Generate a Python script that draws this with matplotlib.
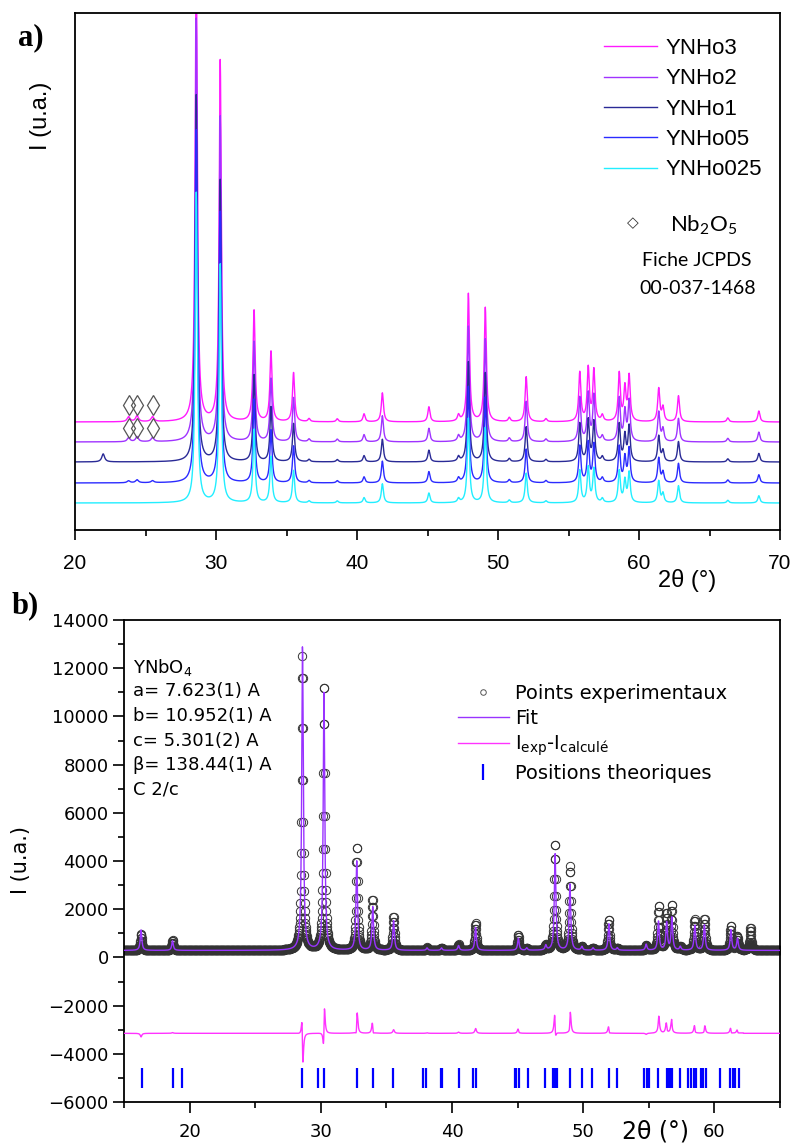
import numpy as np
import matplotlib
matplotlib.use('Agg')
import matplotlib.pyplot as plt
from matplotlib.lines import Line2D
from matplotlib.ticker import MultipleLocator, NullLocator

W, H = 792, 1147

# ---------------- a) DRX des echantillons ----------------
samples = ['YNHo3', 'YNHo2', 'YNHo1', 'YNHo05', 'YNHo025']
colors_a = ['#ff1aff', '#a033ff', '#2a2a96', '#2b2bff', '#22eeff']
offsets_a = [108, 88, 68, 47, 27]
scales_a = [1.0, 0.9, 0.78, 0.75, 0.66]

peak_pos_a = [28.6, 30.3, 32.7, 33.9, 35.5, 36.6, 38.6, 40.5, 41.8, 45.1, 47.2,
              47.9, 49.1, 50.8, 52.0, 53.4, 55.8, 56.4, 56.8, 57.4, 58.6, 59.0,
              59.3, 61.4, 61.7, 62.8, 66.3, 68.5]
peak_h_a = [470, 361, 111, 70, 49, 3, 3, 8, 29, 15, 6,
            128, 114, 4, 45, 3, 49, 53, 51, 6, 48, 33,
            45, 33, 14, 26, 4, 11]
hwhm_a = 0.09

# pics d'impurete (Nb2O5 et pic a 22 deg)
imp_pos = [22.0, 23.8, 24.4, 25.5]
imp_h = [[0, 5, 6, 5],
         [0, 4, 5, 4],
         [8, 0, 0, 0],
         [0, 2, 3, 2],
         [0, 0, 0, 0]]
nb2o5_pos = [23.8, 24.4, 25.5]

# ---------------- b) affinement YNbO4 ----------------
bg_b = 290
pos_b = [16.3, 18.7, 28.6, 30.25, 32.75, 33.95, 35.55, 38.1, 39.2, 40.5, 41.8,
         45.05, 45.7, 47.15, 47.85, 49.0, 49.9, 50.75, 51.95, 52.6, 54.8, 55.75,
         56.35, 56.75, 57.4, 58.5, 59.25, 61.25, 61.75, 62.75]
obs_h = [700, 430, 12200, 11100, 4300, 2100, 1400, 120, 100, 250, 1150,
         650, 100, 200, 4450, 3500, 150, 100, 1300, 100, 200, 1850,
         1500, 1850, 150, 1300, 1300, 1000, 600, 950]
fit_pos = [16.3, 18.7, 28.607, 30.243, 32.74, 33.96, 35.55, 38.1, 39.2, 40.5, 41.8,
           45.06, 45.7, 47.15, 47.86, 48.99, 49.9, 50.75, 51.96, 52.6, 54.8, 55.74,
           56.36, 56.76, 57.4, 58.51, 59.24, 61.26, 61.76, 62.75]
fit_h = [850, 400, 12700, 10700, 3700, 1800, 1250, 100, 100, 200, 950,
         500, 100, 200, 4000, 2800, 150, 100, 1100, 100, 250, 1200,
         1150, 1350, 150, 1050, 1050, 850, 500, 0]
hwhm_b = 0.07
diff_offset = -3150
fit_end = 62.2

theo_pos = [16.34, 18.74, 19.4, 28.6, 29.8, 30.23, 32.75, 33.96, 35.53, 37.8, 38.0,
            39.14, 39.27, 40.55, 41.6, 41.84, 44.77, 44.9, 45.08, 45.76, 47.1,
            47.67, 47.85, 48.03, 48.99, 49.92, 50.7, 51.94, 52.6, 54.67, 54.85,
            55.05, 55.73, 56.36, 56.5, 56.65, 56.8, 57.37, 58.0, 58.2, 58.46,
            58.58, 58.96, 59.1, 59.34, 60.4, 61.2, 61.4, 61.6, 61.87]

cell_text = ['YNbO$_\\mathdefault{4}$', 'a= 7.623(1) A', 'b= 10.952(1) A',
             'c= 5.301(2) A', '\u03b2= 138.44(1) A', 'C 2/c']


def lorentz(x, pos, h, g):
    y = np.zeros_like(x)
    for p, a in zip(pos, h):
        y += a * g**2 / ((x - p)**2 + g**2)
    return y


fig = plt.figure(figsize=(W / 100, H / 100), dpi=100)


def fx(px):
    return px / W


def fy(py):
    return 1 - py / H


# ---- panel a
ax1 = fig.add_axes([fx(75), fy(530), fx(780) - fx(75), fy(13) - fy(530)])
tt_a = np.arange(20, 70.001, 0.02)
for i, name in enumerate(samples):
    y = offsets_a[i] + scales_a[i] * lorentz(tt_a, peak_pos_a, peak_h_a, hwhm_a)
    y += lorentz(tt_a, imp_pos, imp_h[i], 0.12)
    ax1.plot(tt_a, y, color=colors_a[i], lw=1.0, label=name)

ax1.plot(nb2o5_pos, [offsets_a[0] + 17] * 3, ls='none', marker='d', ms=10,
         mfc='none', mec='#555555', mew=0.9)
ax1.plot(nb2o5_pos, [offsets_a[0] - 6] * 3, ls='none', marker='d', ms=10,
         mfc='none', mec='#555555', mew=0.9)

ax1.set_xlim(20, 70)
ax1.set_ylim(0, 517)
ax1.xaxis.set_major_locator(MultipleLocator(10))
ax1.xaxis.set_minor_locator(MultipleLocator(5))
ax1.yaxis.set_major_locator(NullLocator())
ax1.tick_params(axis='x', which='major', direction='out', length=7, width=1.2,
                pad=10, labelsize=15)
ax1.tick_params(axis='x', which='minor', direction='out', length=4, width=1.2)
for lab in ax1.get_xticklabels():
    lab.set_family('Liberation Sans')
for s in ax1.spines.values():
    s.set_linewidth(1.3)

ax1.legend(loc='upper left', bbox_to_anchor=(fx(604), fy(38)),
           bbox_transform=fig.transFigure, frameon=False,
           prop={'family': 'Liberation Sans', 'size': 16},
           handlelength=2.4, handletextpad=0.35, labelspacing=0.42,
           borderpad=0, borderaxespad=0)

fig.text(fx(633), fy(223), '\u25c7', fontsize=11, ha='center', va='center',
         color='#333333', family='DejaVu Sans')
fig.text(fx(670), fy(225), 'Nb$_\\mathdefault{2}$O$_\\mathdefault{5}$',
         fontsize=16, ha='left', va='center', family='Lato')
fig.text(fx(697), fy(260), 'Fiche JCPDS', fontsize=14, ha='center',
         va='center', family='Lato')
fig.text(fx(698), fy(289), '00-037-1468', fontsize=14, ha='center',
         va='center', family='Lato')
fig.text(fx(687), fy(580), '2\u03b8 (\u00b0)', fontsize=17, ha='center',
         va='center', family='Liberation Sans')
fig.text(fx(41), fy(116), 'I (u.a.)', fontsize=17, rotation=90, ha='center',
         va='center', family='Liberation Sans')
fig.text(fx(31), fy(38), 'a)', fontsize=22, fontweight='bold', ha='center',
         va='center', family='Liberation Serif')

# ---- panel b
ax2 = fig.add_axes([fx(124), fy(1102), fx(780) - fx(124), fy(620) - fy(1102)])
tt_b = np.arange(15, 65.001, 0.02)
obs = bg_b + lorentz(tt_b, pos_b, obs_h, hwhm_b)
fit = bg_b + lorentz(tt_b, fit_pos, fit_h, hwhm_b)
diff = np.where(tt_b < fit_end, obs - fit, 0) + diff_offset

ax2.plot(tt_b, obs, ls='none', marker='o', ms=6, mfc='none', mec='#333333',
         mew=0.7, zorder=2)
ax2.plot(tt_b, fit, color='#9933ff', lw=1.0, zorder=3)
ax2.plot(tt_b, diff, color='#ff33ff', lw=1.0, zorder=3)
ax2.vlines(theo_pos, -5400, -4600, colors='#0000ff', lw=1.6, zorder=3)

ax2.set_xlim(15, 65)
ax2.set_ylim(-6000, 14000)
ax2.xaxis.set_major_locator(MultipleLocator(10))
ax2.xaxis.set_minor_locator(MultipleLocator(5))
ax2.yaxis.set_major_locator(MultipleLocator(2000))
ax2.yaxis.set_minor_locator(MultipleLocator(1000))
ax2.tick_params(axis='x', which='major', direction='out', length=8, width=1.2,
                pad=7, labelsize=13)
ax2.tick_params(axis='x', which='minor', direction='out', length=4, width=1.2)
ax2.tick_params(axis='y', which='major', direction='out', length=8, width=1.2,
                pad=3, labelsize=13)
ax2.tick_params(axis='y', which='minor', direction='out', length=4, width=1.2)
for s in ax2.spines.values():
    s.set_linewidth(1.3)

handles = [Line2D([], [], ls='none', marker='o', ms=4, mfc='none',
                  mec='#555555', mew=0.7),
           Line2D([], [], color='#9933ff', lw=1.0),
           Line2D([], [], color='#ff33ff', lw=1.0),
           Line2D([], [], ls='none', marker='|', ms=11, mew=1.6, color='#0000ff')]
labels = ['Points experimentaux', 'Fit',
          'I$_\\mathdefault{exp}$-I$_\\mathdefault{calcul\u00e9}$',
          'Positions theoriques']
ax2.legend(handles, labels, loc='upper left', bbox_to_anchor=(fx(458), fy(684)),
           bbox_transform=fig.transFigure, frameon=False,
           prop={'family': 'DejaVu Sans', 'size': 14},
           handlelength=2.6, handletextpad=0.35, labelspacing=0.3,
           borderpad=0, borderaxespad=0)

for k, t in enumerate(cell_text):
    fig.text(fx(133), fy(667 + 24.5 * k), t, fontsize=13, ha='left',
             va='center', family='DejaVu Sans')

fig.text(fx(656), fy(1131), '2\u03b8 (\u00b0)', fontsize=17, ha='center',
         va='center', family='DejaVu Sans')
fig.text(fx(21), fy(860), 'I (u.a.)', fontsize=15, rotation=90, ha='center',
         va='center', family='DejaVu Sans')
fig.text(fx(25), fy(606), 'b)', fontsize=22, fontweight='bold', ha='center',
         va='center', family='Liberation Serif')

fig.savefig('out.png', dpi=100)
